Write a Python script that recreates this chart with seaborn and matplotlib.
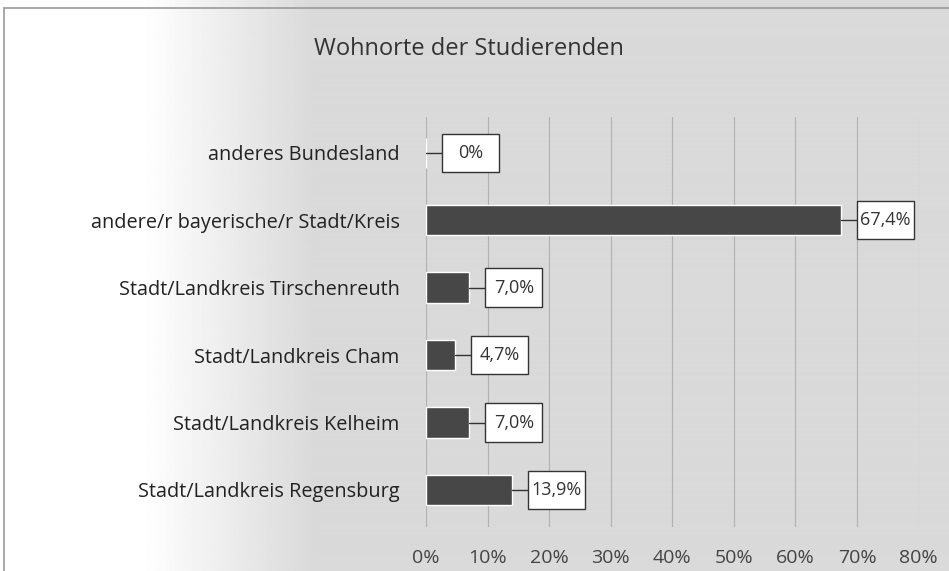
import numpy as np
import pandas as pd
import matplotlib
matplotlib.use("Agg")
import matplotlib.pyplot as plt
import seaborn as sns
from matplotlib.patches import Rectangle

categories = ["anderes Bundesland", "andere/r bayerische/r Stadt/Kreis",
              "Stadt/Landkreis Tirschenreuth", "Stadt/Landkreis Cham",
              "Stadt/Landkreis Kelheim", "Stadt/Landkreis Regensburg"]
values = [0.0, 67.4, 7.0, 4.7, 7.0, 13.9]
value_labels = ["0%", "67,4%", "7,0%", "4,7%", "7,0%", "13,9%"]
xticks = [0, 10, 20, 30, 40, 50, 60, 70, 80]
xtick_labels = ["0%", "10%", "20%", "30%", "40%", "50%", "60%", "70%", "80%"]
title = "Wohnorte der Studierenden"

sns.set_theme(style="white")
plt.rcParams['font.family'] = ['Open Sans', 'DejaVu Sans']

fig = plt.figure(figsize=(9.49, 5.71), dpi=100)

# gradient background
bg = fig.add_axes([0, 0, 1, 1], zorder=0)
xs = np.linspace(0, 1, 949)
grad = np.where(xs < 0.15, 1.0,
                np.where(xs > 0.33, 0.855, 1.0 - (xs - 0.15) / 0.18 * 0.145))
bg.imshow(np.tile(grad, (2, 1)), cmap="gray", vmin=0, vmax=1, aspect="auto",
          extent=[0, 1, 0, 1])
bg.set_xlim(0, 1); bg.set_ylim(0, 1)
bg.axis("off")
# frame lines
bg.plot([0.0045, 0.0045], [0, 0.986], color="#9a9a9a", lw=1.2)
bg.plot([0.0045, 1.0], [0.986, 0.986], color="#9a9a9a", lw=1.2)

fig.text(0.494, 0.914, title, ha="center", va="center", fontsize=17, color="#333333")

ax = fig.add_axes([0.449, 0.077, 0.519, 0.718], zorder=1)
ax.patch.set_alpha(0)
df = pd.DataFrame({"cat": categories, "val": values})
sns.barplot(data=df, x="val", y="cat", orient="h", color="#474747",
            saturation=1, width=0.45, ax=ax, zorder=3)
ax.set_xlim(0, 80)
ax.set_ylim(5.55, -0.53)
ax.set_xticks(xticks)
ax.set_xticklabels(xtick_labels, fontsize=14, color="#444444")
ax.tick_params(axis="x", length=0, pad=16)
ax.tick_params(axis="y", length=0, pad=19, labelsize=14.3, labelcolor="#222222")
ax.set_xlabel("")
ax.set_ylabel("")
for s in ax.spines.values():
    s.set_visible(False)
for x in xticks:
    ax.axvline(x, color="#b0b0b0", lw=0.8, zorder=1)

gap = 2.6
bw = 9.3
bh = 0.57
for i, (v, lab) in enumerate(zip(values, value_labels)):
    ax.plot([v, v + gap], [i, i], color="#333333", lw=1.0, zorder=4)
    ax.add_patch(Rectangle((v + gap, i - bh / 2), bw, bh, facecolor="white",
                           edgecolor="#333333", lw=1.0, zorder=5))
    ax.text(v + gap + bw / 2, i, lab, ha="center", va="center", fontsize=13,
            color="#333333", zorder=6)

fig.savefig("out.png", dpi=100)
